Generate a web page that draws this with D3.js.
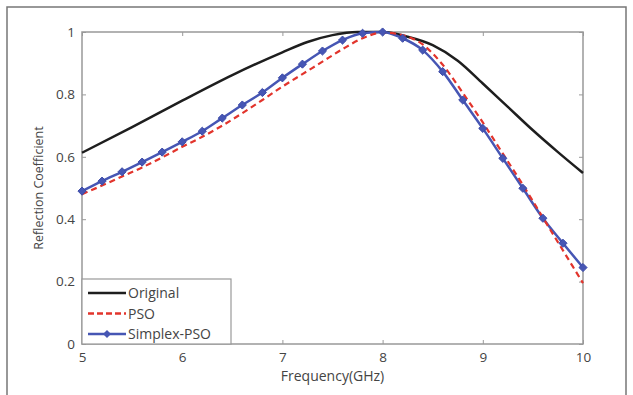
<!DOCTYPE html>
<html>
<head>
<meta charset="utf-8">
<script src="https://cdn.jsdelivr.net/npm/d3@7"></script>
<style>
  body { margin: 0; background: #fff; }
  svg text { font-family: "Open Sans", "DejaVu Sans", sans-serif; fill: #444; }
</style>
</head>
<body>
<svg id="chart" width="633" height="395"></svg>
<script>
// frequency samples (GHz)
const freqs = [5.0, 5.2, 5.4, 5.6, 5.8, 6.0, 6.2, 6.4, 6.6, 6.8, 7.0, 7.2, 7.4,
  7.6, 7.8, 8.0, 8.2, 8.4, 8.6, 8.8, 9.0, 9.2, 9.4, 9.6, 9.8, 10.0];

const originalFreq = [5.0, 5.5, 6.0, 6.5, 7.0, 7.25, 7.5, 7.75, 8.0, 8.25, 8.5, 8.75, 9.0, 9.25, 9.5, 9.75, 10.0];
const original = [0.613, 0.695, 0.78, 0.862, 0.935, 0.968, 0.99, 1.0, 1.0, 0.985, 0.958, 0.908, 0.835, 0.76, 0.685, 0.615, 0.548];

const pso = [0.48, 0.508, 0.537, 0.566, 0.598, 0.632, 0.664, 0.70, 0.74, 0.782, 0.825, 0.865, 0.905,
  0.945, 0.98, 0.998, 0.99, 0.96, 0.895, 0.805, 0.71, 0.61, 0.51, 0.405, 0.30, 0.195];

const simplexPso = [0.49, 0.522, 0.552, 0.583, 0.615, 0.648, 0.682, 0.724, 0.766, 0.806, 0.853, 0.897, 0.939,
  0.974, 0.996, 1.0, 0.98, 0.942, 0.873, 0.782, 0.691, 0.595, 0.499, 0.403, 0.323, 0.245];

const xTicks = [5, 6, 7, 8, 9, 10];
const yTicks = [0, 0.2, 0.4, 0.6, 0.8, 1];
const legendNames = ["Original", "PSO", "Simplex-PSO"];

const svg = d3.select("#chart");
const mLeft = 82, mRight = 583, mTop = 32, mBottom = 344;

const x = d3.scaleLinear().domain([5, 10]).range([mLeft, mRight]);
const y = d3.scaleLinear().domain([0, 1]).range([mBottom, mTop]);

// outer frame
svg.append("path")
  .attr("d", "M7,395V7H626V395")
  .attr("fill", "none").attr("stroke", "#777").attr("stroke-width", 1.5);

// plot box
svg.append("rect")
  .attr("x", mLeft).attr("y", mTop).attr("width", mRight - mLeft).attr("height", mBottom - mTop)
  .attr("fill", "#fff").attr("stroke", "#999").attr("stroke-width", 1.5);

const fmt = d => d === 0 || d === 1 ? String(d) : d3.format(".1f")(d);

svg.append("g").attr("transform", `translate(0,${mBottom})`)
  .call(d3.axisBottom(x).tickValues(xTicks).tickSize(-4).tickPadding(8).tickFormat(d3.format("d")))
  .call(g => g.select(".domain").remove());
svg.append("g").attr("transform", `translate(0,${mTop})`)
  .call(d3.axisTop(x).tickValues(xTicks).tickSize(-4).tickFormat(""))
  .call(g => g.select(".domain").remove());
svg.append("g").attr("transform", `translate(${mLeft},0)`)
  .call(d3.axisLeft(y).tickValues(yTicks).tickSize(-4).tickPadding(7).tickFormat(fmt))
  .call(g => g.select(".domain").remove());
svg.append("g").attr("transform", `translate(${mRight},0)`)
  .call(d3.axisRight(y).tickValues(yTicks).tickSize(-4).tickFormat(""))
  .call(g => g.select(".domain").remove());

svg.selectAll(".tick line").attr("stroke", "#999");
svg.selectAll(".tick text").attr("font-size", 13.5).style("fill", "#444");

// axis titles
svg.append("text")
  .attr("x", (mLeft + mRight) / 2).attr("y", 381)
  .attr("text-anchor", "middle").attr("font-size", 14)
  .text("Frequency(GHz)");
svg.append("text")
  .attr("transform", `translate(43,${(mTop + mBottom) / 2}) rotate(-90)`)
  .attr("text-anchor", "middle").attr("font-size", 12.5)
  .text("Reflection Coefficient");

const line = d3.line().curve(d3.curveMonotoneX);

svg.append("path")
  .attr("d", line(originalFreq.map((f, i) => [x(f), y(original[i])])))
  .attr("fill", "none").attr("stroke", "#1e1e1e").attr("stroke-width", 2.5);

svg.append("path")
  .attr("d", line(freqs.map((f, i) => [x(f), y(simplexPso[i])])))
  .attr("fill", "none").attr("stroke", "#4656b4").attr("stroke-width", 2.5);

svg.append("path")
  .attr("d", line(freqs.map((f, i) => [x(f), y(pso[i])])))
  .attr("fill", "none").attr("stroke", "#e2342c").attr("stroke-width", 2.2)
  .attr("stroke-dasharray", "6,4");

const star = d3.symbol().type(d3.symbolDiamond2).size(42);
svg.append("g").selectAll("path")
  .data(freqs)
  .join("path")
  .attr("transform", (f, i) => `translate(${x(f)},${y(simplexPso[i])})`)
  .attr("d", star)
  .attr("fill", "#4656b4").attr("stroke", "#3b4aa8").attr("stroke-width", 1);

// legend
const lg = svg.append("g");
lg.append("rect")
  .attr("x", mLeft).attr("y", 279).attr("width", 149).attr("height", mBottom - 279)
  .attr("fill", "#fff").attr("stroke", "#999").attr("stroke-width", 1.2);
const rows = lg.selectAll("g.row").data(legendNames).join("g")
  .attr("class", "row")
  .attr("transform", (d, i) => `translate(0,${293 + i * 20.5})`);
rows.append("line")
  .attr("x1", 88).attr("x2", 126)
  .attr("stroke", (d, i) => ["#1e1e1e", "#e2342c", "#4656b4"][i])
  .attr("stroke-width", 2.5)
  .attr("stroke-dasharray", (d, i) => i === 1 ? "6,3" : null);
rows.filter((d, i) => i === 2).append("path")
  .attr("transform", "translate(107,0)")
  .attr("d", star).attr("fill", "#4656b4");
rows.append("text")
  .attr("x", 128).attr("y", 5).attr("font-size", 14)
  .text(d => d);
</script>
</body>
</html>
